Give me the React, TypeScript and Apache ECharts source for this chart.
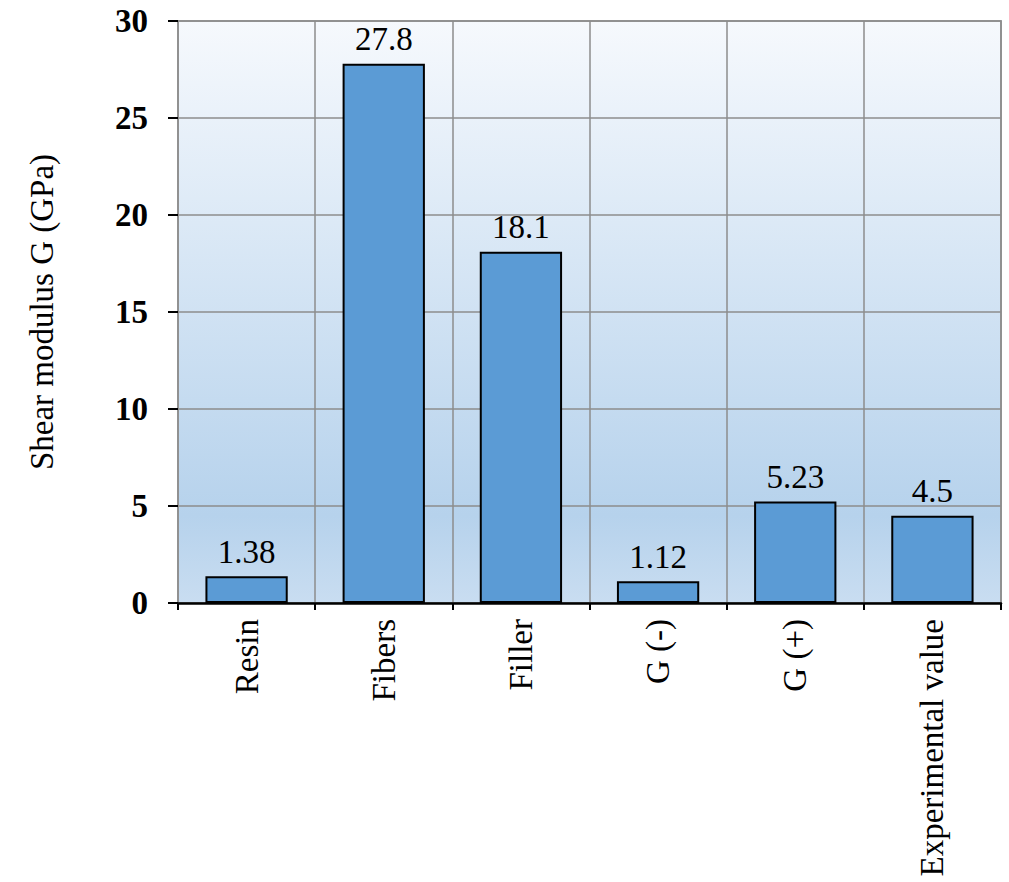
import React, { useEffect, useRef } from "react";
import * as echarts from "echarts";

const categories = ["Resin", "Fibers", "Filler", "G (-)", "G (+)", "Experimental value"];
const values = [1.38, 27.8, 18.1, 1.12, 5.23, 4.5];
const labels = ["1.38", "27.8", "18.1", "1.12", "5.23", "4.5"];
const yTicks = { min: 0, max: 30, interval: 5 };

const FONT = "'Liberation Serif', 'Times New Roman', serif";

export default function App() {
  const ref = useRef<HTMLDivElement>(null);
  useEffect(() => {
    const chart = echarts.init(ref.current!, null, { renderer: "svg" });
    chart.setOption({
      animation: false,
      grid: {
        left: 178,
        right: 8,
        top: 21,
        bottom: 279,
        show: true,
        borderColor: "#a0a0a0",
        borderWidth: 2,
        backgroundColor: new echarts.graphic.LinearGradient(0, 0, 0, 1, [
          { offset: 0, color: "#f6f9fd" },
          { offset: 0.85, color: "#b6d2ec" },
          { offset: 1, color: "#c9ddf1" },
        ]),
      },
      xAxis: {
        type: "category",
        data: categories,
        axisLine: { lineStyle: { color: "#000", width: 2.5 } },
        axisTick: { show: true, length: 7, lineStyle: { color: "#000", width: 2 } },
        axisLabel: {
          rotate: 90,
          margin: 16,
          color: "#000",
          fontFamily: FONT,
          fontSize: 33,
        },
        splitLine: { show: true, lineStyle: { color: "#8c8c8c", width: 1.5 } },
      },
      yAxis: {
        type: "value",
        min: yTicks.min,
        max: yTicks.max,
        interval: yTicks.interval,
        name: "Shear modulus G (GPa)",
        nameLocation: "middle",
        nameGap: 120,
        nameRotate: 90,
        nameTextStyle: { color: "#000", fontFamily: FONT, fontSize: 33 },
        axisLine: { show: false },
        axisTick: { show: true, length: 10, lineStyle: { color: "#000", width: 2 } },
        axisLabel: {
          margin: 30,
          color: "#000",
          fontFamily: FONT,
          fontSize: 33,
          fontWeight: "bold",
        },
        splitLine: { show: true, lineStyle: { color: "#8c8c8c", width: 1.5 } },
      },
      series: [
        {
          type: "bar",
          data: values,
          barWidth: "60%",
          itemStyle: { color: "#5b9bd5", borderColor: "#000", borderWidth: 2 },
          label: {
            show: true,
            position: "top",
            distance: 8,
            color: "#000",
            fontFamily: FONT,
            fontSize: 33,
            formatter: (p: any) => labels[p.dataIndex],
          },
        },
      ],
    });
    return () => chart.dispose();
  }, []);
  return (
    <div
      ref={ref}
      style={{ position: "fixed", left: 0, top: 0, width: 1009, height: 882, background: "#fff" }}
    />
  );
}
